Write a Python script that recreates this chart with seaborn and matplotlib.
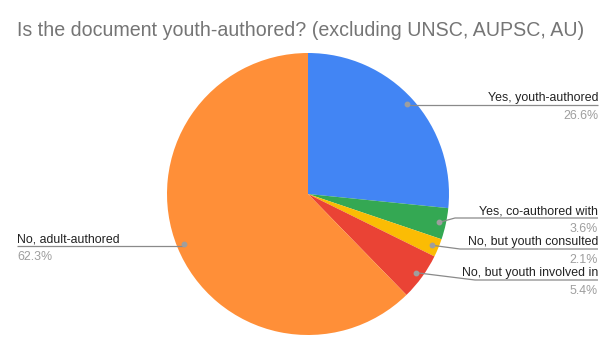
import numpy as np
import matplotlib
matplotlib.use("Agg")
import matplotlib.pyplot as plt
import seaborn as sns

# Du lieu doc tu bieu do
categories = ['Yes, youth-authored', 'Yes, co-authored with', 'No, but youth consulted',
              'No, but youth involved in', 'No, adult-authored']
shares = [26.6, 3.6, 2.1, 5.4, 62.3]
colors = ['#4285F4', '#34A853', '#FBBC04', '#EA4335', '#FF8F38']

W, H = 616, 355


def plot_youth_authored(save_path='out.png'):
    sns.set_style('white')
    plt.rcParams['font.family'] = ['Liberation Sans', 'DejaVu Sans']

    fig = plt.figure(figsize=(W / 100, H / 100), dpi=100)

    cx, cy, r = 308, 194, 141
    # pie ve theo truc y huong len
    pax = fig.add_axes([0, 0, 1, 1])
    wedges, _ = pax.pie(shares, colors=colors, startangle=90, counterclock=False,
                        center=(cx, H - cy), radius=r, frame=True,
                        wedgeprops={'linewidth': 0})
    pax.set_xlim(0, W)
    pax.set_ylim(0, H)
    pax.axis('off')

    # truc phu cho nhan, toa do pixel y huong xuong
    ax = fig.add_axes([0, 0, 1, 1])
    ax.set_xlim(0, W)
    ax.set_ylim(H, 0)
    ax.axis('off')
    ax.patch.set_alpha(0)

    # vi tri nhan (layout)
    label_y = [105, 218, 249, 280, 246]
    elbow_x = [None, 455, 460, 475, None]
    right_x, left_x = 598, 17

    for i, w in enumerate(wedges):
        mid = np.deg2rad((w.theta1 + w.theta2) / 2)
        dx = cx + 0.95 * r * np.cos(mid)
        dy = cy - 0.95 * r * np.sin(mid)
        ly = label_y[i]
        left = np.cos(mid) < 0
        if left:
            xs, ys = [dx, left_x], [ly, ly]
        elif elbow_x[i] is None:
            xs, ys = [dx, right_x], [ly, ly]
        else:
            xs, ys = [dx, elbow_x[i], right_x], [dy, ly, ly]
        ax.plot(xs, ys, color='#8a8a8a', linewidth=0.9, solid_capstyle='butt')
        ax.plot([dx], [dy], 'o', color='#9e9e9e', markersize=3.2)
        tx = left_x if left else right_x
        ha = 'left' if left else 'right'
        ax.text(tx, ly - 4, categories[i], ha=ha, va='baseline', fontsize=8.9, color='#222222')
        ax.text(tx, ly + 5, f'{shares[i]:.1f}%', ha=ha, va='top', fontsize=8.9, color='#9e9e9e')

    ax.text(17, 31, 'Is the document youth-authored? (excluding UNSC, AUPSC, AU)',
            ha='left', va='center', fontsize=14.1, color='#757575')

    plt.savefig(save_path, dpi=100)


if __name__ == "__main__":
    plot_youth_authored()
